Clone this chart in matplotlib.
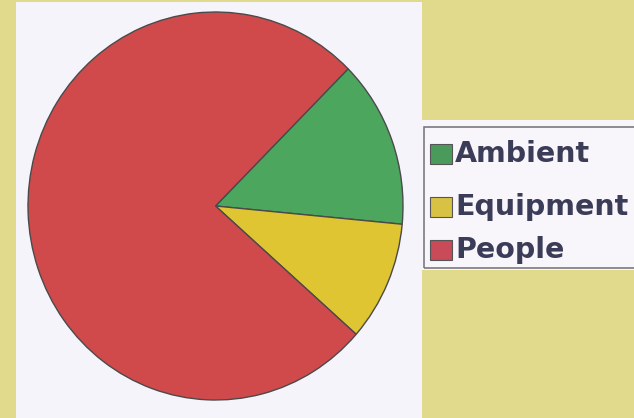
import matplotlib.pyplot as plt
from matplotlib.patches import Rectangle

labels = ['Ambient', 'Equipment', 'People']
values = [14, 10, 76]
colors = ['#4ca65e', '#dfc532', '#d04a4c']
legend_colors = ['#4a9a5c', '#d8c244', '#c94a58']

W, H = 634, 418


def fx(px):
    return px / W


def fy(py):
    return 1 - py / H


def main():
    fig = plt.figure(figsize=(W / 100, H / 100), dpi=100)
    fig.patch.set_facecolor('#e1d98b')

    # white panel behind the pie
    fig.add_artist(Rectangle((fx(16), fy(418)), fx(422) - fx(16), fy(2) - fy(418),
                             transform=fig.transFigure, facecolor='#f6f4fb',
                             edgecolor='none', zorder=0))

    ax = fig.add_axes([fx(28), fy(400), fx(403) - fx(28), fy(12) - fy(400)])
    ax.pie(values, colors=colors, startangle=45, counterclock=False,
           wedgeprops=dict(edgecolor='#4a4a4a', linewidth=1.0))
    ax.set_aspect('auto')
    ax.set_xlim(-1, 1)
    ax.set_ylim(-1, 1)
    ax.axis('off')

    # legend box
    fig.add_artist(Rectangle((fx(422), fy(270)), fx(634) - fx(422), fy(120) - fy(270),
                             transform=fig.transFigure, facecolor='#f8f6fb',
                             edgecolor='none', zorder=1))
    fig.add_artist(Rectangle((fx(424), fy(268)), fx(640) - fx(424), fy(127) - fy(268),
                             transform=fig.transFigure, facecolor='none',
                             edgecolor='#7a7a80', linewidth=1.2, zorder=2))
    rows = [154, 207, 250]
    for lab, c, y in zip(labels, legend_colors, rows):
        fig.add_artist(Rectangle((fx(430), fy(y + 10)), fx(452) - fx(430), fy(y - 10) - fy(y + 10),
                                 transform=fig.transFigure, facecolor=c,
                                 edgecolor='#555555', linewidth=0.8, zorder=3))
        fig.text(fx(455), fy(y), lab, fontsize=20.5, fontweight='bold',
                 family='DejaVu Sans', color='#3a3c58', va='center', ha='left')

    fig.savefig('out.png', dpi=100, facecolor=fig.get_facecolor())


if __name__ == '__main__':
    main()
